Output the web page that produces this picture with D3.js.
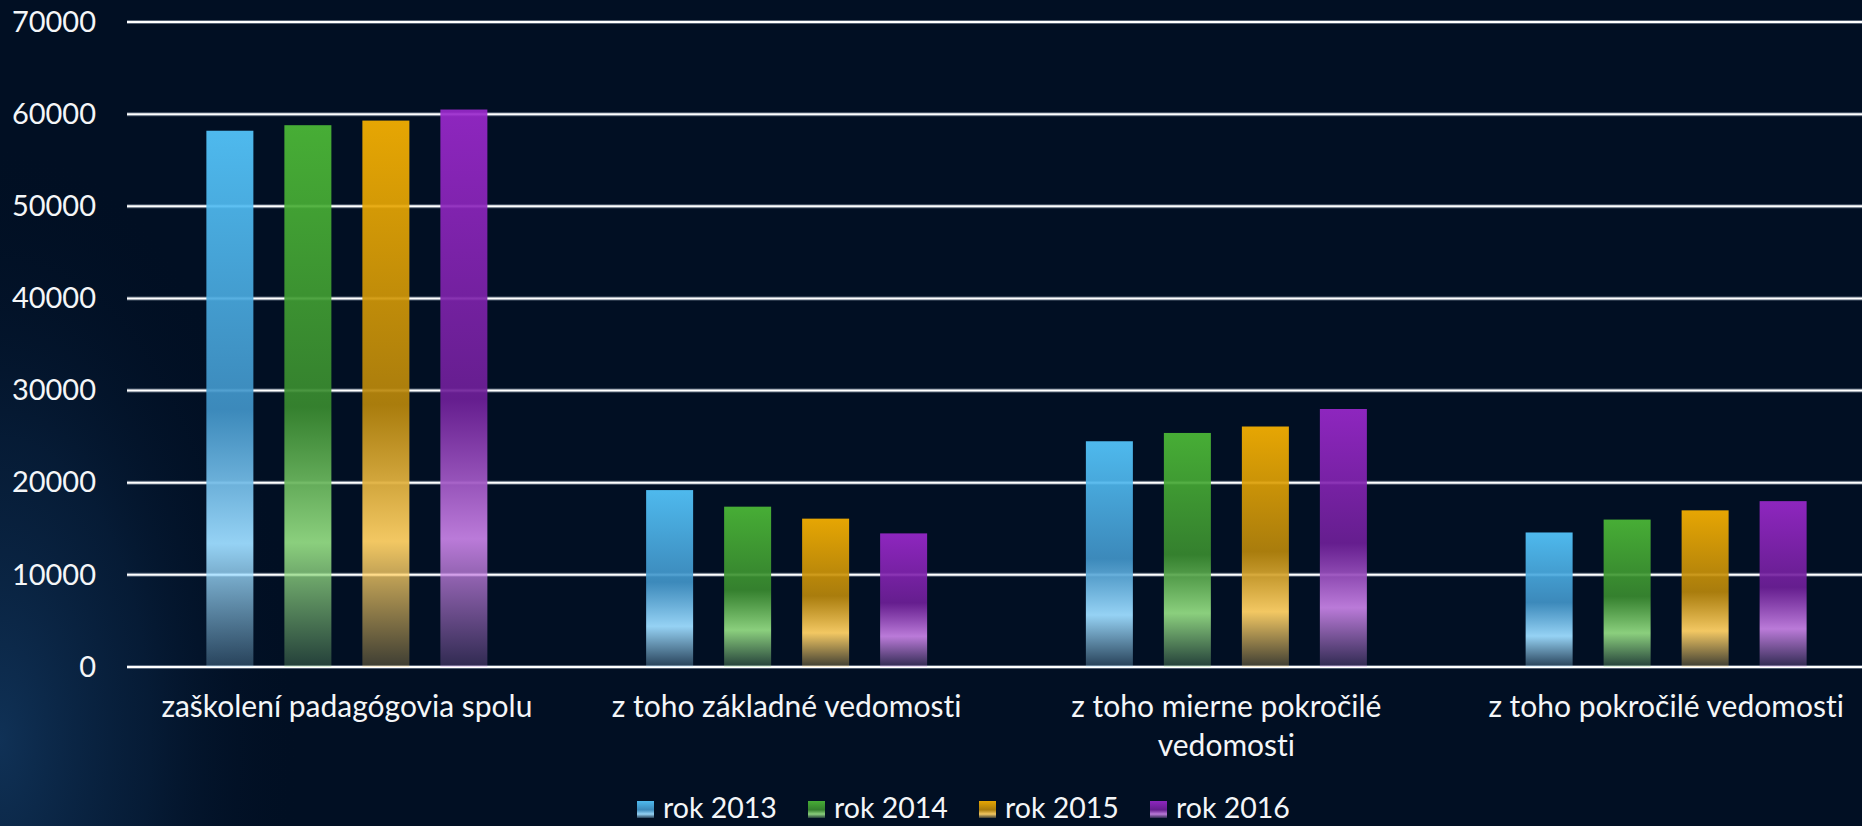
<!DOCTYPE html>
<html>
<head>
<meta charset="utf-8">
<script src="https://cdn.jsdelivr.net/npm/d3@7/dist/d3.min.js"></script>
<style>
  html, body { margin: 0; padding: 0; background: #010f23; overflow: hidden; }
  svg { display: block; }
  text { font-family: Lato, "Open Sans", sans-serif; fill: #f4f6f8; font-variant-ligatures: none; font-feature-settings: "liga" 0, "clig" 0; }
</style>
</head>
<body>
<svg id="chart" width="1862" height="826"></svg>
<script>
// ---- data ----
const categories = [
  "zaškolení padagógovia spolu",
  "z toho základné vedomosti",
  "z toho mierne pokročilé vedomosti",
  "z toho pokročilé vedomosti"
];
const seriesNames = ["rok 2013", "rok 2014", "rok 2015", "rok 2016"];
const rok2013 = [58200, 19200, 24500, 14600];
const rok2014 = [58800, 17400, 25400, 16000];
const rok2015 = [59300, 16100, 26100, 17000];
const rok2016 = [60500, 14500, 28000, 18000];
const seriesValues = [rok2013, rok2014, rok2015, rok2016];
const yTicks = [0, 10000, 20000, 30000, 40000, 50000, 60000, 70000];

// gradient colours per series: top, dark, light
const seriesTop   = ["#55c8ff", "#4dbb37", "#fab300", "#9a28cc"];
const seriesDark  = ["#4194c8", "#398a2f", "#b8860b", "#6e1f98"];
const seriesLight = ["#9ddcff", "#92d982", "#ffd166", "#c480e2"];

// ---- layout ----
const W = 1862, H = 826;
const svg = d3.select("#chart");
const defs = svg.append("defs");

// background
const bg = defs.append("radialGradient").attr("id", "bgGlow")
  .attr("gradientUnits", "userSpaceOnUse")
  .attr("cx", 0).attr("cy", 0).attr("r", 1)
  .attr("gradientTransform", "translate(0,740) scale(300,600)");
bg.append("stop").attr("offset", 0).attr("stop-color", "#16406c").attr("stop-opacity", 0.7);
bg.append("stop").attr("offset", 0.5).attr("stop-color", "#0c2a4c").attr("stop-opacity", 0.45);
bg.append("stop").attr("offset", 1).attr("stop-color", "#010f23").attr("stop-opacity", 0);
svg.append("rect").attr("width", W).attr("height", H).attr("fill", "#010f23");
svg.append("rect").attr("width", W).attr("height", H).attr("fill", "url(#bgGlow)");

// bar gradients
seriesNames.forEach((s, i) => {
  const g = defs.append("linearGradient").attr("id", "grad" + i)
    .attr("x1", 0).attr("y1", 0).attr("x2", 0).attr("y2", 1);
  [[0, seriesTop[i], 0.92], [0.52, seriesDark[i], 0.92], [0.77, seriesLight[i], 0.95], [1, seriesLight[i], 0.24]]
    .forEach(([o, c, a]) => g.append("stop").attr("offset", o).attr("stop-color", c).attr("stop-opacity", a));
});

const plotLeft = 127, plotRight = 1886;
const y = d3.scaleLinear().domain([0, 70000]).range([667, 22]);
const x0 = d3.scaleBand().domain(categories).range([plotLeft, plotRight]).paddingInner(0).paddingOuter(0);
const step = 78;
const x1 = d3.scaleBand().domain(seriesNames)
  .range([x0.bandwidth() / 2 - 2 * step, x0.bandwidth() / 2 + 2 * step])
  .paddingInner(31 / 78).paddingOuter(31 / 78 / 2);

// gridlines
const grid = svg.append("g");
grid.selectAll("line.halo").data(yTicks).join("line")
  .attr("x1", plotLeft).attr("x2", W)
  .attr("y1", d => y(d)).attr("y2", d => y(d))
  .attr("stroke", "#b8c4d2").attr("stroke-opacity", 0.45).attr("stroke-width", 4);
grid.selectAll("line.core").data(yTicks).join("line")
  .attr("x1", plotLeft).attr("x2", W)
  .attr("y1", d => y(d)).attr("y2", d => y(d))
  .attr("stroke", "#ffffff").attr("stroke-width", 2);

// y axis labels
const yAxis = d3.axisLeft(y).tickValues(yTicks).tickSize(0).tickPadding(31).tickFormat(d3.format("d"));
const ya = svg.append("g").attr("transform", `translate(${plotLeft},0)`).call(yAxis);
ya.select(".domain").remove();
ya.selectAll("text").attr("font-size", 29).attr("fill", "#f4f6f8")
  .style("font-family", "Lato, 'Open Sans', sans-serif");

// bars
const groups = svg.append("g").selectAll("g").data(categories).join("g")
  .attr("transform", d => `translate(${x0(d)},0)`);
groups.selectAll("rect").data((d, ci) => seriesNames.map((s, si) => ({ s, si, v: seriesValues[si][ci] })))
  .join("rect")
  .attr("x", d => x1(d.s))
  .attr("width", x1.bandwidth())
  .attr("y", d => y(d.v))
  .attr("height", d => y(0) - y(d.v))
  .attr("fill", d => `url(#grad${d.si})`);

// category labels with wrapping
const labelG = svg.append("g");
categories.forEach(c => {
  const cx = x0(c) + x0.bandwidth() / 2;
  const t = labelG.append("text")
    .attr("x", cx)
    .attr("y", 717)
    .attr("text-anchor", "middle")
    .attr("font-size", 30);
  const words = c.split(" ");
  let line = [];
  let tspan = t.append("tspan").attr("x", cx).attr("dy", 0);
  words.forEach(w => {
    line.push(w);
    tspan.text(line.join(" "));
    if (tspan.node().getComputedTextLength() > 420 && line.length > 1) {
      line.pop();
      tspan.text(line.join(" "));
      line = [w];
      tspan = t.append("tspan").attr("x", cx).attr("dy", 39).text(w);
    }
  });
});

// legend
const legendX0 = 637, legendStep = 171;
const leg = svg.append("g").selectAll("g").data(seriesNames).join("g")
  .attr("transform", (d, i) => `translate(${legendX0 + i * legendStep},0)`);
leg.append("rect").attr("x", 0).attr("y", 801).attr("width", 17).attr("height", 17)
  .attr("fill", (d, i) => `url(#grad${i})`);
leg.append("text").attr("x", 26).attr("y", 818).attr("font-size", 28.5).text(d => d);
</script>
</body>
</html>
